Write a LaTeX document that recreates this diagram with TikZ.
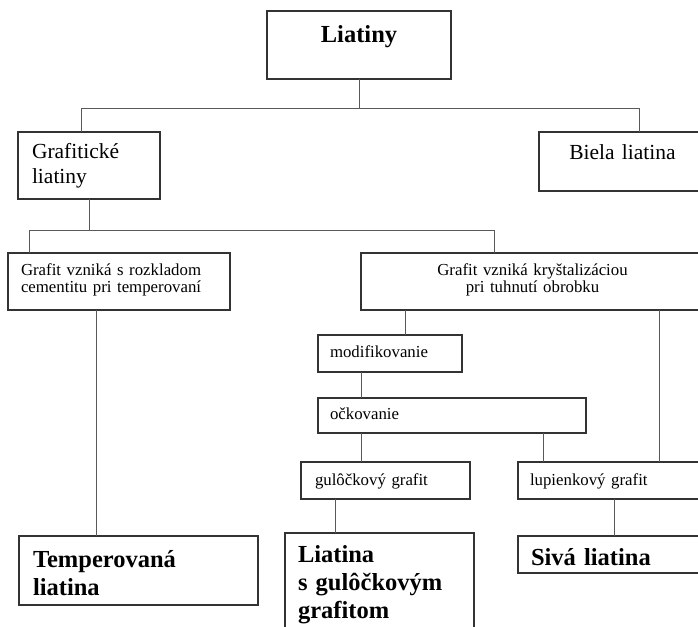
\documentclass[tikz,border=0pt]{standalone}
\usepackage{fontspec}
\setmainfont{Liberation Serif}
\begin{document}
\begin{tikzpicture}[
		x=1pt, y=-1pt,
		box/.style={draw=black!80, line width=1.2pt, inner ysep=0pt, outer sep=0pt, anchor=base},
		small/.style={font=\fontsize{16.8}{17.5}\selectfont},
		mid/.style={font=\fontsize{21.5}{25}\selectfont},
		big/.style={font=\fontsize{24.5}{28}\selectfont\bfseries},
		link/.style={draw=black!65, line width=1pt}
	]
	\clip (0,0) rectangle (698,626);
	% boxes, placed at the baseline of their first line
	\node[box, big, align=center, text width=184pt, inner xsep=0pt, text height=31pt, text depth=37pt] (liatiny) at (359,42) {Liatiny};
	\node[box, mid, align=left, text width=114pt, inner xsep=14pt, text height=26pt, text depth=41pt] (grafliat) at (89,158) {Grafitické\\liatiny};
	\node[box, mid, align=center, text width=167pt, inner xsep=0pt, text height=27pt, text depth=32pt] (biela) at (622.5,159) {Biela liatina};
	\node[box, small, align=left, text width=196pt, inner xsep=13pt, text height=22pt, text depth=35pt] (rozklad) at (119,275) {Grafit vzniká s rozkladom\\cementitu pri temperovaní};
	\node[box, small, align=center, text width=343pt, inner xsep=0pt, text height=22pt, text depth=35pt] (kryst) at (532.5,275) {Grafit vzniká kryštalizáciou\\pri tuhnutí obrobku};
	\node[box, small, align=left, text width=120pt, inner xsep=12pt, text height=22pt, text depth=15pt] (modif) at (390,357) {modifikovanie};
	\node[box, small, align=left, text width=244pt, inner xsep=12pt, text height=21pt, text depth=14pt] (ockov) at (452,419) {očkovanie};
	\node[box, small, align=left, text width=141pt, inner xsep=14pt, text height=23pt, text depth=14pt] (gulgraf) at (385.5,485) {gulôčkový grafit};
	\node[box, small, align=left, text width=168pt, inner xsep=12pt, text height=23pt, text depth=14pt] (lupgraf) at (614,485) {lupienkový grafit};
	\node[box, big, align=left, text width=211pt, inner xsep=14pt, text height=31pt, text depth=38pt] (temper) at (138.5,567) {Temperovaná\\liatina};
	\node[box, big, align=left, text width=163pt, inner xsep=13pt, text height=29pt, text depth=78pt] (liatgul) at (379.5,562) {Liatina\\s gulôčkovým\\grafitom};
	\node[box, big, align=left, text width=166pt, inner xsep=13pt, text height=29pt, text depth=8pt] (siva) at (614,565) {Sivá liatina};
	% connectors
	\coordinate (busA) at (81,108);
	\coordinate (busB) at (639,108);
	\coordinate (busC) at (29,230);
	\coordinate (busD) at (494,230);
	\draw[link] (liatiny.south) -- (liatiny.south |- busA);
	\draw[link] (grafliat.north -| busA) |- (busB) -- (biela.north -| busB);
	\draw[link] (grafliat.south) -- (grafliat.south |- busC);
	\draw[link] (rozklad.north -| busC) |- (busD) -- (kryst.north -| busD);
	\foreach \from/\to/\x in {rozklad/temper/96, kryst/modif/405, kryst/lupgraf/659, modif/ockov/361, ockov/gulgraf/361, ockov/lupgraf/543, gulgraf/liatgul/335, lupgraf/siva/614}{
		\coordinate (drop) at (\x,0);
		\draw[link] (\from.south -| drop) -- (\to.north -| drop);
	}
\end{tikzpicture}
\end{document}
